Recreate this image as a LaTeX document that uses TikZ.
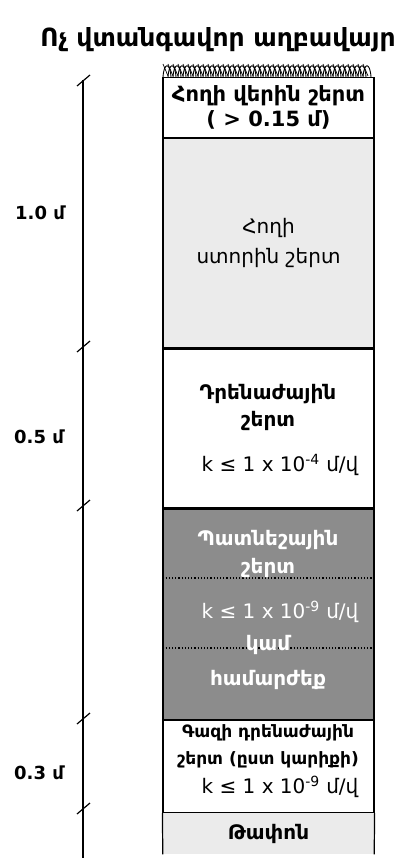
\documentclass[tikz,border=0pt]{standalone}
\usepackage{fontspec}
\setmainfont{DejaVu Sans}
\usetikzlibrary{positioning}

\begin{document}
\begin{tikzpicture}[
    x=1pt, y=-1pt,
    layer/.style={draw, line width=1.2pt, minimum width=211pt, inner sep=0pt, align=center, anchor=north, font=\bfseries\fontsize{21}{25}\selectfont},
    klabel/.style={font=\fontsize{20}{22}\selectfont},
    depth/.style={font=\bfseries\fontsize{18}{20}\selectfont},
    tick/.style={line width=1.2pt}
]
\useasboundingbox (0,0) rectangle (401,858);
\node[font=\bfseries\fontsize{25}{28}\selectfont] (title) at (218,40) {Ոչ վտանգավոր աղբավայր};

% layers
\node[layer, minimum height=60pt] (topsoil) at (268.5,77) {Հողի վերին շերտ\\( > 0.15 մ)};
\node[layer, minimum height=209pt, fill=black!8, font=\fontsize{20}{30}\selectfont] (subsoil) [below=0pt of topsoil] {Հողի\\ստորին շերտ};
\node[layer, minimum height=159pt] (drainage) [below=0pt of subsoil] {};
\node[layer, minimum height=210pt, fill=black!45] (barrier) [below=0pt of drainage] {};
\node[layer, minimum height=92pt] (gasdrain) [below=0pt of barrier] {};
\node[minimum width=211pt, minimum height=41pt, inner sep=0pt, anchor=north, fill=black!8, font=\bfseries\fontsize{20}{20}\selectfont] (waste) [below=0pt of gasdrain] {Թափոն};
\draw[line width=1.2pt] (gasdrain.south west) -- (waste.south west);
\draw[line width=1.2pt] (gasdrain.south east) -- (waste.south east);

% texts of layers
\node[font=\bfseries\fontsize{20}{27}\selectfont, align=center] (draintext) at (268,407) {Դրենաժային\\շերտ};
\node[klabel] (draink) at (280,465) {k ≤ 1 x 10\textsuperscript{-4} մ/վ};
\draw[line width=1.2pt, dotted] (barrier.west |- 0,578) -- (barrier.east |- 0,578);
\draw[line width=1.2pt, dotted] (barrier.west |- 0,648) -- (barrier.east |- 0,648);
\node[font=\bfseries\fontsize{20}{28}\selectfont, align=center, text=white] (bartext) at (268,554) {Պատնեշային\\շերտ};
\node[klabel, text=white] (bark) at (280,612) {k ≤ 1 x 10\textsuperscript{-9} մ/վ};
\node[font=\bfseries\fontsize{20}{35}\selectfont, align=center, text=white] (bartext2) at (268,662) {կամ\\համարժեք};
\node[font=\bfseries\fontsize{17}{27}\selectfont, align=center] (gastext) at (268,746) {Գազի դրենաժային\\շերտ (ըստ կարիքի)};
\node[klabel] (gask) at (280,787) {k ≤ 1 x 10\textsuperscript{-9} մ/վ};

% grass on top
\foreach \x in {163,168,...,366} {
    \draw[line width=0.9pt] (\x,77) .. controls (\x+1,62) and (\x+7,62) .. (\x+8,77);
    \draw[line width=0.7pt] (\x,64) -- (\x+5,76);
}

% depth scale
\coordinate (scaletop) at (83,80);
\coordinate (scalebot) at (83,858);
\draw[tick] (scaletop) -- (scalebot);
\foreach \y in {80,346,505,718,808} {
    \draw[tick] (77,\y+6) -- (90,\y-5);
}
\node[depth] (d1) at (40,213) {1.0 մ};
\node[depth] (d2) at (39,437) {0.5 մ};
\node[depth] (d3) at (39,773) {0.3 մ};
\end{tikzpicture}
\end{document}
